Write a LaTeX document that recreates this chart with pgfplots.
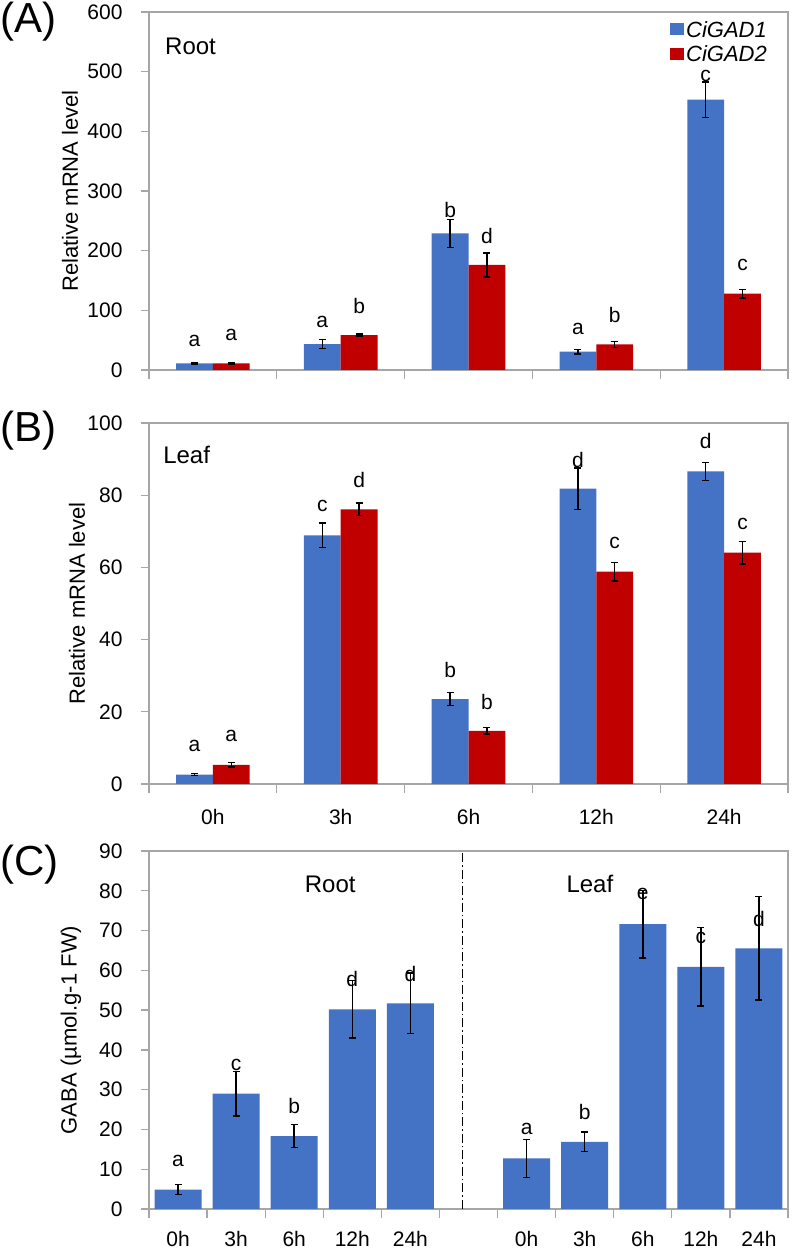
\documentclass[border=0pt]{standalone}
\usepackage{pgfplots}
\pgfplotsset{compat=1.18}
\usepackage{fontspec}
\setmainfont{Liberation Sans}
\definecolor{gblue}{HTML}{4472C4}
\definecolor{gred}{HTML}{C00000}
\definecolor{axgray}{HTML}{A6A6A6}
\pgfplotsset{
  panel/.style={
    scale only axis,
    width=639pt,
    enlarge x limits=false, enlarge y limits=false,
    axis line style={axgray, line width=1.3pt},
    tick style={axgray, line width=1.3pt},
    tick align=outside,
    tick pos=left,
    major tick length=8pt,
    minor tick length=9pt,
    minor y tick num=0,
    major x tick style={draw=none},
    /pgf/number format/assume math mode=true,
    ticklabel style={font=\fontsize{21}{24}\selectfont, text=black},
    yticklabel style={xshift=-15pt},
    xticklabel style={yshift=-14pt},
    ylabel style={font=\fontsize{22}{26}\selectfont, anchor=center},
    error bars/y dir=both,
    error bars/y explicit,
    error bars/error bar style={black, line width=1.5pt},
    error bars/error mark options={rotate=90, mark size=3.5pt, line width=1.5pt, black},
  },
}
\tikzset{lett/.style={font=\fontsize{21}{24}\selectfont, inner sep=0pt}}
\begin{document}
\begin{tikzpicture}
\useasboundingbox (0pt,0pt) rectangle (793pt,1249pt);

% Panel labels
\node[anchor=west, inner sep=0pt, font=\fontsize{42}{46}\selectfont] at (0pt,1227pt) {(A)};
\node[anchor=west, inner sep=0pt, font=\fontsize{42}{46}\selectfont] at (0pt,818pt) {(B)};
\node[anchor=west, inner sep=0pt, font=\fontsize{42}{46}\selectfont] at (0pt,384pt) {(C)};

% ---------------- Panel A ----------------
\begin{axis}[panel,
  at={(149pt,879pt)}, anchor=south west,
  height=358pt,
  ymin=0, ymax=600, ytick={0,100,...,600},
  xmin=-0.5, xmax=4.5,
  xtick={0,1,2,3,4}, xticklabels={},
  minor xtick={-0.5,0.5,1.5,2.5,3.5,4.5},
  ybar=0pt, bar width=36.8pt,
  ylabel={Relative mRNA level},
  ylabel style={at={(axis description cs:-0.1236,0.5)}},
  legend cell align=left,
  legend style={draw=none, fill=none, at={(rel axis cs:0.975,0.985)}, anchor=north east,
    font=\itshape\fontsize{22}{26}\selectfont, row sep=3pt},
  legend image code/.code={\fill[#1] (0pt,-5pt) rectangle (14pt,7pt);},
]
\addplot[fill=gblue, draw=none] coordinates {
  (0,11) +- (0,1.2)
  (1,43.5) +- (0,7.5)
  (2,229) +- (0,23.5)
  (3,30.7) +- (0,3.5)
  (4,453) +- (0,30)
};
\addplot[fill=gred, draw=none] coordinates {
  (0,11) +- (0,1.2)
  (1,58.6) +- (0,2)
  (2,176) +- (0,20)
  (3,43) +- (0,5)
  (4,128) +- (0,7)
};
\legend{CiGAD1, CiGAD2}
\node[lett] at (axis cs:-0.144,49) {a};
\node[lett] at (axis cs:0.144,58) {a};
\node[lett] at (axis cs:0.856,81) {a};
\node[lett] at (axis cs:1.144,107) {b};
\node[lett] at (axis cs:1.856,268) {b};
\node[lett] at (axis cs:2.144,224) {d};
\node[lett] at (axis cs:2.856,69) {a};
\node[lett] at (axis cs:3.144,92) {b};
\node[lett] at (axis cs:3.856,493) {c};
\node[lett] at (axis cs:4.144,176) {c};
\node[anchor=west, inner sep=0pt, font=\fontsize{24}{28}\selectfont] at (axis cs:-0.375,543) {Root};
\end{axis}

% ---------------- Panel B ----------------
\begin{axis}[panel,
  at={(149pt,465pt)}, anchor=south west,
  height=361pt,
  ymin=0, ymax=100, ytick={0,20,...,100},
  xmin=-0.5, xmax=4.5,
  xtick={0,1,2,3,4}, xticklabels={0h,3h,6h,12h,24h},
  minor xtick={-0.5,0.5,1.5,2.5,3.5,4.5},
  ybar=0pt, bar width=36.8pt,
  ylabel={Relative mRNA level},
  ylabel style={at={(axis description cs:-0.1127,0.5)}},
]
\addplot[fill=gblue, draw=none] coordinates {
  (0,2.6) +- (0,0.3)
  (1,68.9) +- (0,3.4)
  (2,23.5) +- (0,1.8)
  (3,81.8) +- (0,5.7)
  (4,86.6) +- (0,2.5)
};
\addplot[fill=gred, draw=none] coordinates {
  (0,5.3) +- (0,0.6)
  (1,76.1) +- (0,1.7)
  (2,14.7) +- (0,0.9)
  (3,58.8) +- (0,2.6)
  (4,64.1) +- (0,3.1)
};
\node[lett] at (axis cs:-0.144,10.6) {a};
\node[lett] at (axis cs:0.144,13.2) {a};
\node[lett] at (axis cs:0.856,76.9) {c};
\node[lett] at (axis cs:1.144,84.3) {d};
\node[lett] at (axis cs:1.856,31.7) {b};
\node[lett] at (axis cs:2.144,22.7) {b};
\node[lett] at (axis cs:2.856,89.8) {d};
\node[lett] at (axis cs:3.144,66.8) {c};
\node[lett] at (axis cs:3.856,94.9) {d};
\node[lett] at (axis cs:4.144,72.1) {c};
\node[anchor=west, inner sep=0pt, font=\fontsize{24}{28}\selectfont] at (axis cs:-0.39,91.1) {Leaf};
\end{axis}

% ---------------- Panel C ----------------
\begin{axis}[panel,
  at={(149pt,40pt)}, anchor=south west,
  height=358pt,
  ymin=0, ymax=90, ytick={0,10,...,90},
  xmin=-0.5, xmax=10.5,
  xtick={0,1,2,3,4,6,7,8,9,10}, xticklabels={0h,3h,6h,12h,24h,0h,3h,6h,12h,24h},
  xticklabel style={yshift=3pt},
  minor xtick={-0.5,0.5,...,10.5},
  ybar, bar width=47pt, bar shift=0pt,
  ylabel={GABA (µmol.g-1 FW)},
  ylabel style={at={(axis description cs:-0.122,0.5)}},
]
\addplot[fill=gblue, draw=none] coordinates {
  (0,4.9) +- (0,1.3)
  (1,29.0) +- (0,5.6)
  (2,18.3) +- (0,2.9)
  (3,50.2) +- (0,7.2)
  (4,51.7) +- (0,7.6)
  (6,12.7) +- (0,4.8)
  (7,16.9) +- (0,2.4)
  (8,71.6) +- (0,8.5)
  (9,60.9) +- (0,9.9)
  (10,65.5) +- (0,13)
};
\addplot[sharp plot, black, line width=1.2pt, dash pattern=on 9pt off 3pt on 1.5pt off 3pt, error bars/y dir=none, forget plot] coordinates {(4.9,0) (4.9,90)};
\node[lett] at (axis cs:0,12.2) {a};
\node[lett] at (axis cs:1,36.3) {c};
\node[lett] at (axis cs:2,25.8) {b};
\node[lett] at (axis cs:3,57.9) {d};
\node[lett] at (axis cs:4,59.0) {d};
\node[lett] at (axis cs:6,20.2) {a};
\node[lett] at (axis cs:7,24.4) {b};
\node[lett] at (axis cs:8,79.1) {e};
\node[lett] at (axis cs:9,68.1) {c};
\node[lett] at (axis cs:10,73.0) {d};
\node[font=\fontsize{24}{28}\selectfont] at (axis cs:2.62,81.6) {Root};
\node[font=\fontsize{24}{28}\selectfont] at (axis cs:7.09,81.6) {Leaf};
\end{axis}
\end{tikzpicture}
\end{document}
